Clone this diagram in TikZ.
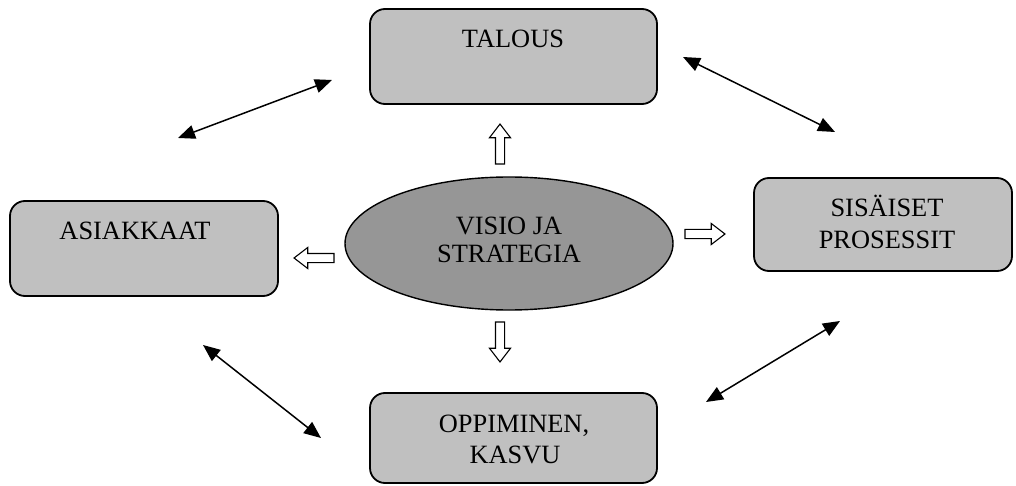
\documentclass[tikz,border=0pt]{standalone}
\usepackage{fontspec}
\setmainfont{Liberation Serif}
\usetikzlibrary{arrows.meta,shapes.geometric,shapes.arrows}
\definecolor{boxgray}{HTML}{C0C0C0}
\definecolor{ovalgray}{HTML}{969696}
\tikzset{
  area/.style={draw=black, line width=1.8pt, fill=boxgray, rounded corners=15pt,
    inner sep=0pt},
  core/.style={ellipse, draw=black, line width=1.4pt, fill=ovalgray, inner sep=0pt},
  caption/.style={anchor=base, inner sep=0pt,
    font=\fontsize{26.4}{30}\selectfont},
  hollow/.style={single arrow, draw=black, line width=1.1pt, fill=white,
    inner xsep=0pt, inner ysep=4pt, minimum height=40pt,
    single arrow head extend=6pt, single arrow tip angle=75},
  link/.style={line width=1.5pt,
    {Triangle[length=17pt,width=14pt]}-{Triangle[length=17pt,width=14pt]}}
}
\begin{document}
\begin{tikzpicture}[x=1pt,y=-1pt]
\useasboundingbox (0,0) rectangle (1016,486);

% four perspective boxes
\node[area, minimum width=287pt, minimum height=95pt] (talous) at (513.5,56.5) {};
\node[area, minimum width=268pt, minimum height=95pt] (asiakkaat) at (144,248.5) {};
\node[area, minimum width=258pt, minimum height=93pt] (prosessit) at (883,224.5) {};
\node[area, minimum width=287pt, minimum height=90pt] (oppiminen) at (513.5,438) {};

% vision and strategy in the middle
\node[core, minimum width=328pt, minimum height=133pt] (visio) at (509,243.5) {};

% captions
\node[caption] (t-talous) at (513,48) {TALOUS};
\node[caption] (t-asiakkaat) at (135,240) {ASIAKKAAT};
\node[caption] (t-sisaiset) at (887,217) {SISÄISET};
\node[caption] (t-prosessit) at (887,248) {PROSESSIT};
\node[caption] (t-oppiminen) at (514,432) {OPPIMINEN,};
\node[caption] (t-kasvu) at (515,463) {KASVU};
\node[caption] (t-visio) at (509,234) {VISIO JA};
\node[caption] (t-strategia) at (509,262) {STRATEGIA};

% hollow arrows pointing out of the vision
\node[hollow, rotate=90] (up) at (500,147) {};
\node[hollow, rotate=-90] (down) at (500,339) {};
\node[hollow, rotate=180] (left) at (317,258) {};
\node[hollow] (right) at (702,234) {};

% two-way links between the perspectives
\coordinate (tl-a) at (178,138);
\coordinate (tl-b) at (332,80);
\coordinate (tr-a) at (683,57);
\coordinate (tr-b) at (835,132);
\coordinate (bl-a) at (203,345);
\coordinate (bl-b) at (321,438);
\coordinate (br-a) at (706,402);
\coordinate (br-b) at (840,321);
\draw[link] (tl-a) -- (tl-b);
\draw[link] (tr-a) -- (tr-b);
\draw[link] (bl-a) -- (bl-b);
\draw[link] (br-a) -- (br-b);
\end{tikzpicture}
\end{document}
